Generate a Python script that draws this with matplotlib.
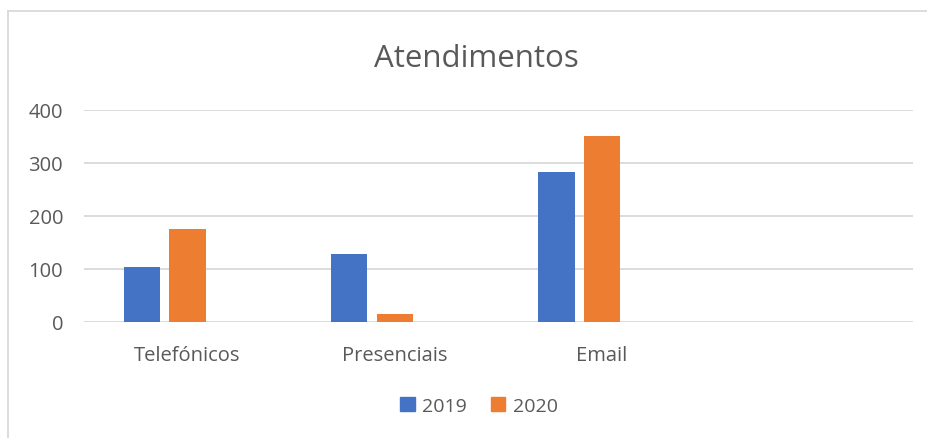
import numpy as np
import matplotlib
matplotlib.use("Agg")
import matplotlib.pyplot as plt
from matplotlib.patches import Patch
from matplotlib.lines import Line2D

plt.rcParams['font.family'] = ['Open Sans', 'DejaVu Sans']

# data
categories = ['Telefónicos', 'Presenciais', 'Email', '']
series_names = ['2019', '2020']
vals_2019 = [103, 128, 282, 0]
vals_2020 = [174, 15, 351, 0]
yticks = [0, 100, 200, 300, 400]

blue = '#4472C4'
orange = '#ED7D31'
grid = '#D9D9D9'
txt = '#595959'

fig = plt.figure(figsize=(9.28, 4.39), dpi=100)
ax = fig.add_axes([84 / 928, 1 - 322.7 / 439, (913 - 84) / 928, (322.7 - 110.7) / 439])

x = np.arange(len(categories))
w = 0.176
step = 0.221
ax.bar(x[:3] - step, vals_2019[:3], width=w, color=blue, zorder=3)
ax.bar(x[:3], vals_2020[:3], width=w, color=orange, zorder=3)

ax.set_xlim(-0.5, len(categories) - 0.5)
ax.set_ylim(0, 400)
ax.set_yticks(yticks)
ax.set_xticks(x)
ax.set_xticklabels(categories)
ax.tick_params(axis='both', length=0, labelsize=14.5, colors=txt)
ax.tick_params(axis='y', pad=15)
ax.tick_params(axis='x', pad=17)
ax.grid(axis='y', color=grid, linewidth=1.3, zorder=0)
for s in ax.spines.values():
    s.set_visible(False)

fig.text(476 / 928, 1 - 59 / 439, 'Atendimentos', ha='center', va='center',
         fontsize=22.5, color=txt)

handles = [Patch(color=blue), Patch(color=orange)]
fig.legend(handles, series_names, loc='center', bbox_to_anchor=(479 / 928, 1 - 407 / 439),
           ncol=2, frameon=False, fontsize=14, labelcolor=txt,
           handlelength=0.75, handleheight=0.75, handletextpad=0.4, columnspacing=1.2)

# chart border (left and top edges visible)
fig.add_artist(Line2D([7.5 / 928, 7.5 / 928], [0, 1 - 12 / 439], transform=fig.transFigure,
                      color=grid, linewidth=1.3))
fig.add_artist(Line2D([7.5 / 928, 1], [1 - 12 / 439, 1 - 12 / 439], transform=fig.transFigure,
                      color=grid, linewidth=1.3))

fig.savefig('out.png', dpi=100)
